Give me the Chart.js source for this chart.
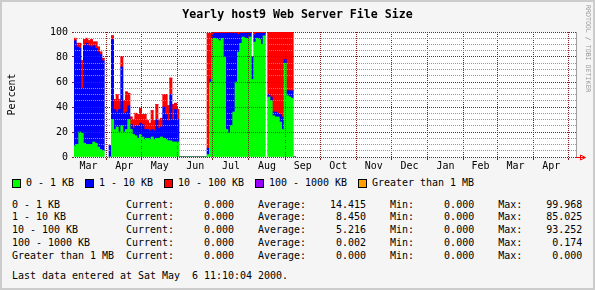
<!DOCTYPE html>
<html>
<head>
<meta charset="utf-8">
<title>Yearly host9 Web Server File Size</title>
<script src="https://cdn.jsdelivr.net/npm/chart.js"></script>
<style>
  html, body { margin: 0; padding: 0; }
  body {
    width: 595px; height: 290px; background: #f5f5f5; position: relative; overflow: hidden;
    font-family: "DejaVu Sans Mono", monospace; font-size: 9.97px; color: #000;
  }
  #chart { position: absolute; left: 0; top: 0; }
  .frame {
    position: absolute; left: 0; top: 0; width: 595px; height: 290px;
    box-sizing: border-box; border: 2px solid #cccccc; pointer-events: none;
  }
  .legend {
    position: absolute; left: 12px; top: 176.9px; height: 12.8px; line-height: 12.8px;
    display: flex; align-items: center; white-space: pre;
  }
  .legend .box { width: 7px; height: 7px; border: 1px solid #000; margin-right: 5px; }
  .legend .txt { margin-right: 11px; }
  .stats, .last {
    position: absolute; left: 12px; margin: 0; white-space: pre;
    font-family: "DejaVu Sans Mono", monospace; font-size: 9.97px; line-height: 12.8px;
  }
  .stats { top: 198.6px; }
  .last { top: 269.6px; }
  .credit {
    position: absolute; left: 584px; top: 5px; writing-mode: vertical-rl;
    font-size: 6.6px; line-height: 7px; color: #999999; white-space: pre;
  }
</style>
</head>
<body>
<canvas id="chart" width="595" height="172"></canvas>
<div class="legend" id="legend"></div>
<pre class="stats" id="stats"></pre>
<div class="last" id="last"></div>
<div class="credit">RRDTOOL / TOBI OETIKER</div>
<div class="frame"></div>
<script>
// series names and colours
const categories = ['0 - 1 KB', '1 - 10 KB', '10 - 100 KB', '100 - 1000 KB', 'Greater than 1 MB'];
const colors = ['#00ff00', '#0000ff', '#ff0000', '#9900ff', '#ffa000'];

// sample days, counted from 1 Mar 1999 (one bar every two days)
const days = [
  4, 6, 8, 10, 12, 14, 16, 18, 20, 22, 24, 26, 28, 30, 32, 34, 36, 38, 40, 42,
  44, 46, 48, 50, 52, 54, 56, 58, 60, 62, 64, 66, 68, 70, 72, 74, 76, 78, 80, 82,
  84, 86, 88, 90, 92, 94, 96, 98, 100, 102, 104, 106, 108, 110, 112, 114, 116, 118, 120, 122,
  124, 126, 128, 130, 132, 134, 136, 138, 140, 142, 144, 146, 148, 150, 152, 154, 156, 158, 160, 162,
  164, 166, 168, 170, 172, 174, 176, 178, 180, 182, 184, 186, 188, 190, 192
];

// percent of files per size class (null = no data)
const kb0to1 = [
  9, 10, 20, 19, 11, 10, 10, 10, 12, 11, 8, 6, 5, null, null, 0, 30, 22, 24, 20,
  25, 20, 22, 30, 22, 18, 17, 15, 18, 16, 14, 15, 14, 16, 14, 15, 15, 16, 15, 14,
  13, 13, 12, 12, 12, 0, 0, 0, 0, 0, 0, 0, 0, 0, 0, 0, 0, 2, 60, 95,
  95, 94, 93, 95, 80, 22, 19, 25, 36, 60, 84, 91, 96, 95, 94, 96, 62, 92, 95, 94,
  90, 97, null, 48, 45, 33, 32, 32, 28, 22, 75, 49, 48, 47, 0
];
const kb1to10 = [
  84, 78, 67, 36, 78, 81, 79, 78, 77, 76, 76, 76, 72, null, null, 9, 64, 16, 12, 18,
  47, 15, 14, 11, 4, 5, 8, 10, 9, 10, 8, 7, 7, 6, 7, 15, 8, 8, 25, 20,
  16, 37, 18, 26, 18, 0, 0, 0, 0, 0, 0, 0, 0, 0, 0, 0, 0, 5, 2, 3,
  4, 5, 6, 4, 19, 77, 80, 74, 63, 39, 14, 8, 3, 4, 5, 3, 18, 6, 4, 5,
  9, 2, null, 2, 3, 3, 4, 3, 6, 10, 3, 4, 5, 6, 0
];
const kb10to100 = [
  2, 3, 4, 22, 5, 4, 4, 6, 3, 5, 4, 2, 2, null, null, 0, 3, 8, 14, 8,
  8, 10, 16, 10, 6, 7, 10, 9, 12, 8, 12, 7, 6, 15, 8, 12, 6, 7, 10, 16,
  12, 13, 12, 5, 8, 0, 0, 0, 0, 0, 0, 0, 0, 0, 0, 0, 0, 92, 37, 2,
  1, 1, 1, 1, 1, 1, 1, 1, 1, 1, 2, 1, 1, 1, 1, 1, 0, 2, 1, 1,
  1, 1, null, 50, 52, 64, 64, 65, 66, 68, 22, 47, 47, 47, 0
];
const kb100to1000 = [
  0, 0, 0, 0, 0, 0, 0, 0, 0, 0, 0, 0, 0, null, null, 0, 0, 0, 0, 0,
  0, 0, 0, 0, 0, 0, 0, 0, 0, 0, 0, 0, 0, 0, 0, 0, 0, 0, 0, 0,
  0, 0.17, 0, 0, 0, 0, 0, 0, 0, 0, 0, 0, 0, 0, 0, 0, 0, 0, 0, 0,
  0, 0, 0, 0, 0, 0, 0, 0, 0, 0, 0, 0, 0, 0, 0, 0, 0, 0, 0, 0,
  0, 0, null, 0, 0, 0, 0, 0, 0, 0, 0, 0, 0, 0, 0
];
const mbOver1 = [
  0, 0, 0, 0, 0, 0, 0, 0, 0, 0, 0, 0, 0, null, null, 0, 0, 0, 0, 0,
  0, 0, 0, 0, 0, 0, 0, 0, 0, 0, 0, 0, 0, 0, 0, 0, 0, 0, 0, 0,
  0, 0, 0, 0, 0, 0, 0, 0, 0, 0, 0, 0, 0, 0, 0, 0, 0, 0, 0, 0,
  0, 0, 0, 0, 0, 0, 0, 0, 0, 0, 0, 0, 0, 0, 0, 0, 0, 0, 0, 0,
  0, 0, null, 0, 0, 0, 0, 0, 0, 0, 0, 0, 0, 0, 0
];

// x axis: month starts (days from 1 Mar 1999) and their labels
const monthStarts = [0, 31, 61, 92, 122, 153, 184, 214, 245, 275, 306, 337, 366, 397, 427, 458];
const monthLabels = ['Mar', 'Apr', 'May', 'Jun', 'Jul', 'Aug', 'Sep', 'Oct', 'Nov', 'Dec', 'Jan', 'Feb', 'Mar', 'Apr', 'May'];
const firstDay = 3;
const lastDay = 433.3;

// y axis
const yTicks = [0, 20, 40, 60, 80, 100];

// summary table
const statCurrent = [0, 0, 0, 0, 0];
const statAverage = [14.415, 8.450, 5.216, 0.002, 0.000];
const statMin = [0, 0, 0, 0, 0];
const statMax = [99.968, 85.025, 93.252, 0.174, 0.000];
const lastUpdate = 'Last data entered at Sat May  6 11:10:04 2000.';

const MGRID = '#821e1e';
const GRID = '#999999';
const FONT = 'DejaVu Sans Mono';

const series = [kb0to1, kb1to10, kb10to100, kb100to1000, mbOver1];
const startSet = new Set(monthStarts);
const labelAt = new Map();

function monthTicks(scale) {
  const ticks = [];
  for (let i = 0; i < monthLabels.length; i++) {
    const start = monthStarts[i];
    const mid = (monthStarts[i] + monthStarts[i + 1]) / 2;
    if (start >= scale.min && start <= scale.max) ticks.push({ value: start });
    if (mid >= scale.min && mid <= scale.max) {
      ticks.push({ value: mid });
      labelAt.set(mid, monthLabels[i]);
    }
  }
  scale.ticks = ticks;
}

// white plot area and the red arrow at the end of the x axis
const rrdPlugin = {
  id: 'rrdDecor',
  beforeDraw(chart) {
    const { ctx, chartArea: a } = chart;
    ctx.save();
    ctx.fillStyle = '#ffffff';
    ctx.fillRect(a.left, a.top, a.right - a.left, a.bottom - a.top);
    ctx.restore();
  },
  afterDraw(chart) {
    const { ctx, chartArea: a } = chart;
    const y = Math.round(a.bottom) + 0.5;
    const x = Math.round(a.right);
    ctx.save();
    ctx.strokeStyle = '#ff0000';
    ctx.lineWidth = 1;
    ctx.beginPath();
    ctx.moveTo(x, y);
    ctx.lineTo(x + 9, y);
    ctx.moveTo(x + 4.5, y - 2.5);
    ctx.lineTo(x + 9.5, y);
    ctx.lineTo(x + 4.5, y + 2.5);
    ctx.closePath();
    ctx.stroke();
    ctx.restore();
  }
};

new Chart(document.getElementById('chart'), {
  type: 'bar',
  data: {
    datasets: series.map((values, i) => ({
      label: categories[i],
      data: days.map((d, j) => ({ x: d, y: values[j] })),
      backgroundColor: colors[i],
      borderWidth: 0,
      categoryPercentage: 1,
      barPercentage: 1
    }))
  },
  options: {
    responsive: false,
    animation: false,
    layout: { padding: 0 },
    plugins: {
      legend: { display: false },
      tooltip: { enabled: false },
      title: {
        display: true,
        text: 'Yearly host9 Web Server File Size',
        color: '#000',
        font: { family: FONT, size: 11.6, weight: 'bold', lineHeight: '14px' },
        padding: { top: 7.5, bottom: 10.5 }
      }
    },
    scales: {
      x: {
        type: 'linear',
        stacked: true,
        min: firstDay,
        max: lastDay,
        offset: false,
        afterBuildTicks: monthTicks,
        afterFit: s => { s.height = 15; },
        grid: {
          offset: false,
          z: 1,
          tickLength: 3,
          color: c => (c.tick && startSet.has(c.tick.value)) ? MGRID : 'rgba(0,0,0,0)',
          tickColor: c => (c.tick && startSet.has(c.tick.value)) ? MGRID : 'rgba(0,0,0,0)'
        },
        border: { color: '#00ff00', dash: [1, 1] },
        ticks: {
          autoSkip: false,
          maxRotation: 0,
          padding: 0,
          color: '#000',
          font: { family: FONT, size: 9.97 },
          callback: v => labelAt.get(v) || ''
        }
      },
      y: {
        stacked: true,
        min: 0,
        max: 100,
        afterFit: s => { s.width = 74; },
        grid: {
          z: 1,
          tickLength: 2,
          color: c => (c.tick && c.tick.value % 20 === 0) ? MGRID : GRID,
          tickColor: c => (c.tick && c.tick.value % 20 === 0) ? MGRID : 'rgba(0,0,0,0)'
        },
        border: { color: '#a0a0a0', dash: [1, 1] },
        ticks: {
          stepSize: 5,
          autoSkip: false,
          maxTicksLimit: 50,
          padding: 4,
          color: '#000',
          font: { family: FONT, size: 9.97 },
          callback: v => yTicks.includes(v) ? String(v) : ''
        },
        title: {
          display: true,
          text: 'Percent',
          color: '#000',
          font: { family: FONT, size: 9.97, lineHeight: '12px' },
          padding: { top: 6.5, bottom: 0 }
        }
      },
      yr: {
        position: 'right',
        afterFit: s => { s.width = 19; },
        grid: { display: false },
        ticks: { display: false },
        border: { color: '#a0a0a0' }
      }
    }
  },
  plugins: [rrdPlugin]
});

// legend
const legend = document.getElementById('legend');
categories.forEach((name, i) => {
  const box = document.createElement('span');
  box.className = 'box';
  box.style.background = colors[i];
  const txt = document.createElement('span');
  txt.className = 'txt';
  txt.textContent = name;
  legend.appendChild(box);
  legend.appendChild(txt);
});

// summary table
const fmt = v => v.toFixed(3).padStart(10);
document.getElementById('stats').textContent = categories.map((name, i) =>
  name.padEnd(19) + 'Current:' + fmt(statCurrent[i]) +
  '    Average:' + fmt(statAverage[i]) +
  '    Min:' + fmt(statMin[i]) +
  '    Max:' + fmt(statMax[i])
).join('\n');
document.getElementById('last').textContent = lastUpdate;
</script>
</body>
</html>
